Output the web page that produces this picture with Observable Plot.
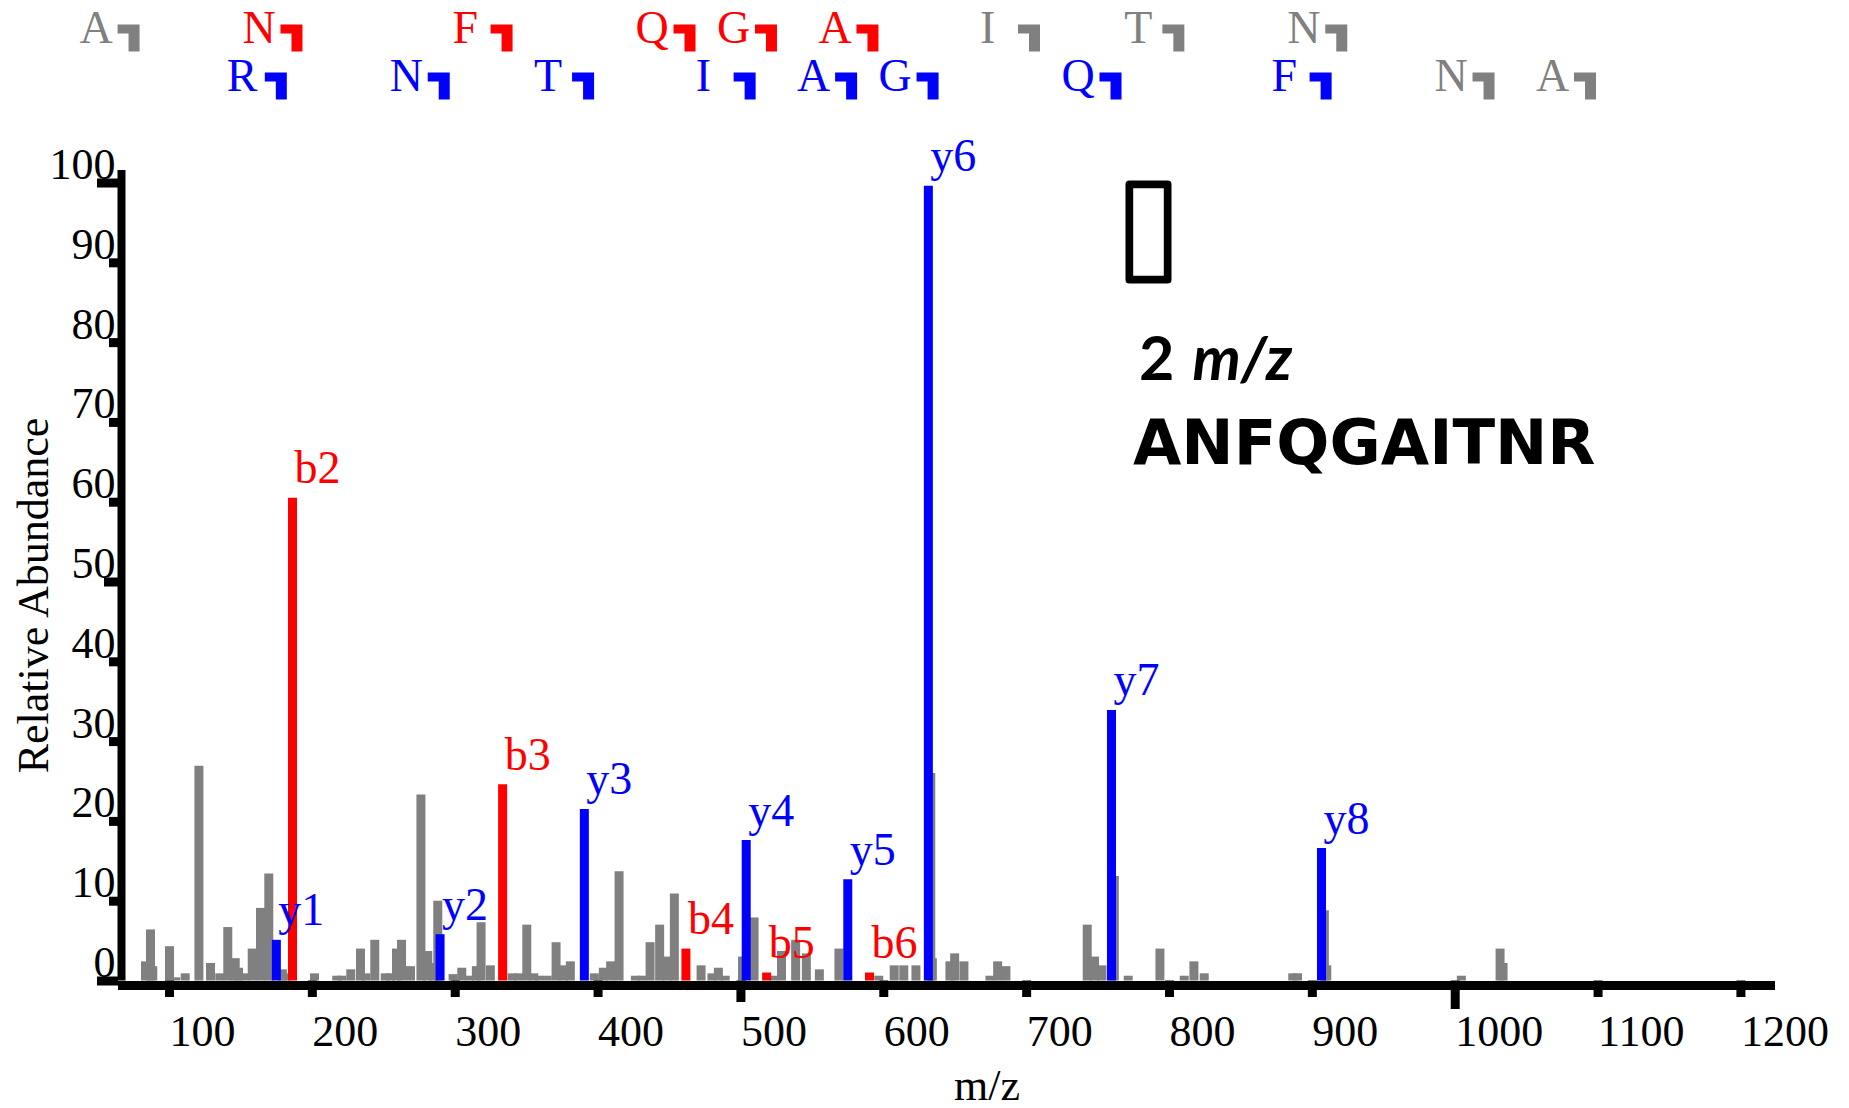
<!DOCTYPE html>
<html>
<head>
<meta charset="utf-8">
<script src="https://cdn.jsdelivr.net/npm/d3@7"></script>
<script src="https://cdn.jsdelivr.net/npm/@observablehq/plot@0.6"></script>
<style>
  html, body { margin: 0; padding: 0; background: #fff; overflow: hidden; }
</style>
</head>
<body>
<div id="chart"></div>
<script>
// ---------- data ----------
// unassigned (gray) peaks: m/z and relative abundance
const grayMz  = [83.2, 86.7, 88.3, 100.0, 104.4, 111.0, 120.6, 128.7, 135.2, 140.8, 146.0, 148.3, 152.5, 157.9, 163.7, 169.5, 179.0, 181.5, 201.5, 217.1, 220.6, 226.9, 233.7, 237.5, 243.7, 251.0, 254.5, 258.9, 262.4, 268.7, 276.0, 280.8, 284.8, 287.8, 298.5, 304.6, 310.0, 314.8, 318.1, 324.6, 339.8, 344.5, 350.1, 355.0, 358.5, 364.4, 370.6, 375.9, 380.6, 397.4, 403.7, 408.8, 414.7, 426.1, 430.8, 436.4, 443.1, 448.3, 453.4, 472.1, 479.7, 484.2, 489.0, 501.1, 509.2, 523.0, 528.4, 538.3, 545.8, 554.9, 568.6, 596.5, 607.3, 614.0, 622.5, 632.9, 634.0, 646.3, 649.6, 656.1, 674.3, 679.7, 685.5, 742.4, 747.5, 752.7, 761.4, 771.1, 793.3, 810.3, 817.1, 824.3, 886.3, 889.6, 908.4, 910.1, 1004.3, 1031.4, 1033.5];
const grayInt = [2.4, 6.4, 1.8, 4.3, 0.4, 0.9, 26.9, 2.2, 0.9, 6.7, 2.8, 1.6, 0.9, 4.0, 9.1, 13.4, 1.4, 0.9, 0.9, 0.6, 0.6, 1.4, 4.0, 0.9, 5.1, 0.9, 0.9, 4.0, 5.1, 1.8, 23.3, 3.7, 2.2, 10.0, 0.8, 1.6, 0.6, 1.8, 7.3, 1.9, 0.9, 0.9, 7.0, 0.9, 0.6, 0.6, 4.8, 1.9, 2.4, 0.9, 1.6, 2.4, 13.7, 0.6, 0.6, 4.8, 7.0, 3.0, 10.9, 1.9, 0.9, 1.6, 0.6, 3.0, 7.9, 0.6, 3.7, 5.1, 3.4, 1.4, 4.0, 0.6, 1.9, 1.9, 1.9, 26.0, 2.8, 2.4, 3.4, 2.4, 0.6, 2.4, 1.8, 7.0, 3.0, 1.9, 13.1, 0.6, 4.0, 0.6, 2.4, 0.9, 0.9, 0.9, 8.8, 1.9, 0.6, 4.0, 2.2];

// assigned b ions
const bLabels = ["b2", "b3", "b4", "b5", "b6"];
const bMz     = [186.1, 333.2, 461.5, 518.0, 590.0];
const bInt    = [60.5, 24.6, 4.0, 1.0, 1.0];

// assigned y ions
const yLabels = ["y1", "y2", "y3", "y4", "y5", "y6", "y7", "y8"];
const yMz     = [174.8, 289.4, 390.4, 503.7, 574.8, 631.2, 759.4, 906.4];
const yInt    = [5.1, 5.8, 21.5, 17.6, 12.7, 99.6, 33.9, 16.6];

// sequence ladder (top rows)
const bSeqLetters = ["A", "N", "F", "Q", "G", "A", "I", "T", "N"];
const bSeqMz      = [72.04, 186.08, 333.15, 461.21, 518.23, 589.27, 702.35, 803.40, 917.44];
const bSeqSeen    = [false, true, true, true, true, true, false, false, false];
const ySeqLetters = ["R", "N", "T", "I", "A", "G", "Q", "F", "N", "A"];
const ySeqMz      = [175.12, 289.16, 390.21, 503.29, 574.33, 631.35, 759.41, 906.48, 1020.52, 1091.56];
const ySeqSeen    = [true, true, true, true, true, true, true, true, false, false];

// axes
const xTickValues = [100, 200, 300, 400, 500, 600, 700, 800, 900, 1000, 1100, 1200];
const yTickValues = [0, 10, 20, 30, 40, 50, 60, 70, 80, 90, 100];

// annotation texts
const chargeNumber = "2";
const chargeUnit = "m/z";
const peptide = "ANFQGAITNR";
const yTitle = "Relative Abundance";
const xTitle = "m/z";

// ---------- styling ----------
const SERIF = "'Liberation Serif', 'Times New Roman', Times, serif";
const RED = "#ff0000", BLUE = "#0000ff", GRAY = "#808080";
const X_DOMAIN = [64.3, 1224.2];
const Y_DOMAIN = [0, 101.57];

const gray = grayMz.map((mz, i) => ({mz, int: grayInt[i]}));
const bPeaks = bMz.map((mz, i) => ({mz, int: bInt[i], label: bLabels[i]}));
const yPeaks = yMz.map((mz, i) => ({mz, int: yInt[i], label: yLabels[i]}));
const bSeq = bSeqMz.map((mz, i) => ({mz, letter: bSeqLetters[i], color: bSeqSeen[i] ? RED : GRAY}));
const ySeq = ySeqMz.map((mz, i) => ({mz, letter: ySeqLetters[i], color: ySeqSeen[i] ? BLUE : GRAY}));

// "┓" style fragment marker
const hook = {
  draw(ctx, size) {
    const k = Math.sqrt(size / Math.PI) / 10;
    ctx.moveTo(-12 * k, 0);
    ctx.lineTo(10 * k, 0);
    ctx.lineTo(10 * k, 27 * k);
    ctx.lineTo(-1 * k, 27 * k);
    ctx.lineTo(-1 * k, 9 * k);
    ctx.lineTo(-12 * k, 9 * k);
    ctx.closePath();
  }
};
// empty glyph box
const box = {
  draw(ctx, size) {
    const k = Math.sqrt(size / Math.PI) / 10;
    const w = 19.15 * k, h = 47.65 * k;
    ctx.moveTo(-w, -h);
    ctx.lineTo(w, -h);
    ctx.lineTo(w, h);
    ctx.lineTo(-w, h);
    ctx.closePath();
  }
};

const peakLabel = {textAnchor: "start", lineAnchor: "bottom", dx: 2, dy: -15, fontSize: 46, fontFamily: SERIF};
const seqLetter = {textAnchor: "start", lineAnchor: "bottom", dx: -50, fontSize: 46, fontFamily: SERIF, frameAnchor: "top"};

const chart = Plot.plot({
  width: 1849,
  height: 1108,
  marginLeft: 118,
  marginRight: 74,
  marginTop: 170,
  marginBottom: 127.5,
  x: {domain: X_DOMAIN},
  y: {domain: Y_DOMAIN},
  color: {type: "identity"},
  style: {background: "white", fontFamily: SERIF, overflow: "visible"},
  marks: [
    // peaks
    Plot.ruleX(gray, {x: "mz", y1: 0, y2: "int", stroke: GRAY, strokeWidth: 9}),
    Plot.ruleX(bPeaks, {x: "mz", y1: 0, y2: "int", stroke: RED, strokeWidth: 9}),
    Plot.ruleX(yPeaks, {x: "mz", y1: 0, y2: "int", stroke: BLUE, strokeWidth: 9}),
    Plot.text(bPeaks, {x: "mz", y: "int", text: "label", fill: RED, ...peakLabel}),
    Plot.text(yPeaks, {x: "mz", y: "int", text: "label", fill: BLUE, ...peakLabel}),

    // axes lines
    Plot.ruleY([0], {stroke: "black", strokeWidth: 9, dy: 4.5}),
    Plot.ruleX([X_DOMAIN[0]], {stroke: "black", strokeWidth: 8, dx: 3}),

    // y ticks
    Plot.axisY([0, 100], {anchor: "left", tickSize: 21, strokeWidth: 9, fill: "none", label: null}),
    Plot.axisY([50], {anchor: "left", tickSize: 14, strokeWidth: 9, fill: "none", label: null}),
    Plot.axisY(yTickValues.filter(d => d % 50 !== 0), {anchor: "left", tickSize: 9, strokeWidth: 9, fill: "none", label: null}),
    Plot.text(yTickValues, {y: d => d, text: d => String(d), frameAnchor: "left", textAnchor: "end", lineAnchor: "bottom", dx: -3, dy: -4, fontSize: 44, fontFamily: SERIF}),

    // x ticks
    Plot.axisX(xTickValues.filter(d => d % 500 !== 0), {anchor: "bottom", tickSize: 16.5, strokeWidth: 9, fill: "none", label: null}),
    Plot.axisX([500], {anchor: "bottom", tickSize: 21.5, strokeWidth: 9, fill: "none", label: null}),
    Plot.axisX([1000], {anchor: "bottom", tickSize: 28.5, strokeWidth: 9, fill: "none", label: null}),
    Plot.text(xTickValues, {x: d => d, text: d => String(d), frameAnchor: "bottom", textAnchor: "start", lineAnchor: "bottom", dy: 64.5, fontSize: 44, fontFamily: SERIF}),

    // axis titles
    Plot.text([yTitle], {text: d => d, frameAnchor: "left", rotate: -90, textAnchor: "middle", lineAnchor: "bottom", dx: -71, dy: 19.75, fontSize: 44, fontFamily: SERIF}),
    Plot.text([xTitle], {text: d => d, frameAnchor: "bottom", textAnchor: "middle", lineAnchor: "bottom", dx: 40, dy: 118.5, fontSize: 44, fontFamily: SERIF}),

    // sequence ladder
    Plot.text(bSeq, {x: "mz", text: "letter", fill: "color", dy: -128, ...seqLetter}),
    Plot.dot(bSeq, {x: "mz", frameAnchor: "top", dy: -146, symbol: hook, r: 10, fill: "color", stroke: "none"}),
    Plot.text(ySeq, {x: "mz", text: "letter", fill: "color", dy: -80, ...seqLetter}),
    Plot.dot(ySeq, {x: "mz", frameAnchor: "top", dy: -98, symbol: hook, r: 10, fill: "color", stroke: "none"}),

    // annotation block
    Plot.dot([0], {frameAnchor: "top-left", dx: 1030, dy: 61.5, symbol: box, r: 10, fill: "none", stroke: "black", strokeWidth: 7.7, strokeLinejoin: "round"}),
    Plot.text([chargeNumber], {text: d => d, frameAnchor: "top-left", dx: 1020.5, dy: 209, textAnchor: "start", lineAnchor: "bottom", fontSize: 61, fontWeight: "bold", fontFamily: "Lato, 'DejaVu Sans', sans-serif"}),
    Plot.text([chargeUnit], {text: d => d, frameAnchor: "top-left", dx: 1074, dy: 209, textAnchor: "start", lineAnchor: "bottom", fontSize: 61, fontWeight: "bold", fontStyle: "italic", fontFamily: "Lato, 'DejaVu Sans', sans-serif"}),
    Plot.text([peptide], {text: d => d, frameAnchor: "top-left", dx: 1014.5, dy: 293, textAnchor: "start", lineAnchor: "bottom", fontSize: 62.5, fontWeight: "bold", fontFamily: "'DejaVu Sans', sans-serif"})
  ]
});

document.getElementById("chart").appendChild(chart);
</script>
</body>
</html>
